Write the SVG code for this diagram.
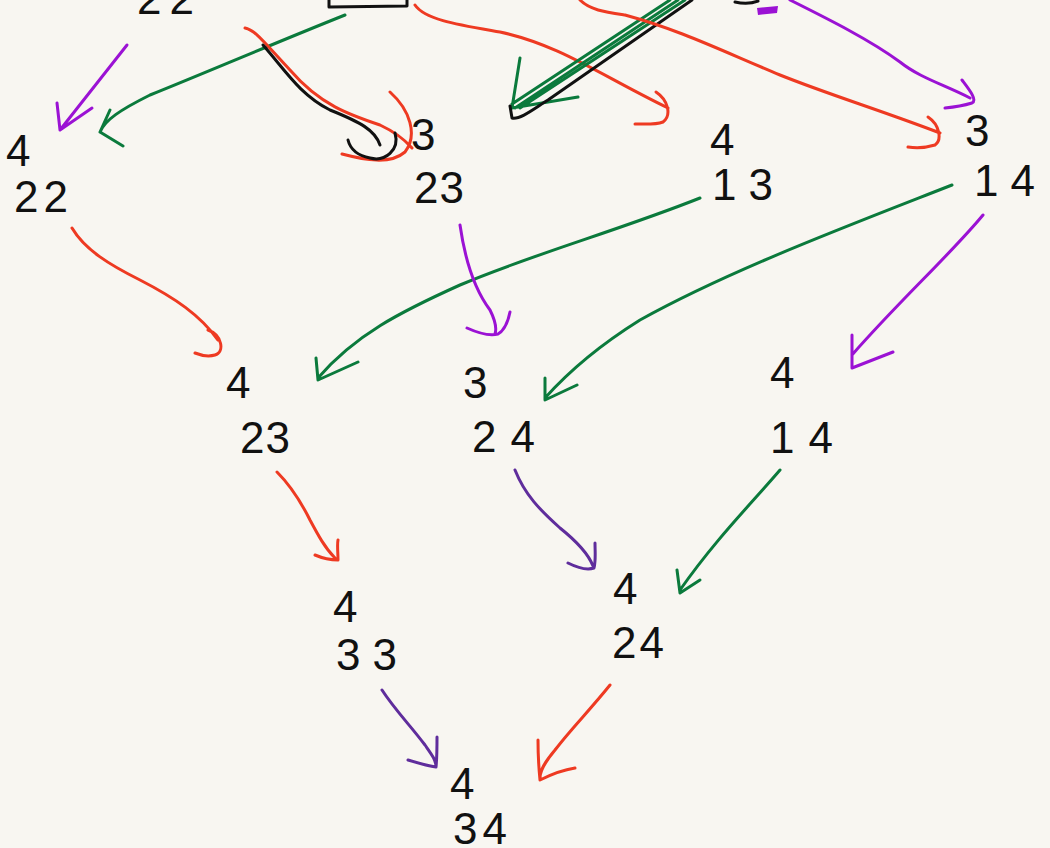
<svg xmlns="http://www.w3.org/2000/svg" width="1050" height="848" viewBox="0 0 1050 848">
<style>
.t{font-family:"Liberation Sans","DejaVu Sans",sans-serif;font-size:44px;fill:#111}
.c{fill:none;stroke-width:3;stroke-linecap:round;stroke-linejoin:round}
.r{stroke:#ee3a22}.g{stroke:#0b7a3c}.p{stroke:#9b12d4}.d{stroke:#5f2d9c}.k{stroke:#111}
</style>
<rect width="1050" height="848" fill="#f8f6f1"/>
<g id="top">
<text class="t" x="137" y="14" letter-spacing="8">22</text>
<path class="c k" d="M329,0 L329,7 L407,6 L407,0"/>
<path class="c k" d="M735,2 Q748,5 758,1"/>
<path d="M757,8 L778,6 L777,13 L758,15 Z" fill="#9b12d4"/>
</g>
<g id="n422"><text class="t" x="6" y="166">4</text><text class="t" x="14" y="212" letter-spacing="5">22</text></g>
<g id="n323"><text class="t" x="411" y="150">3</text><text class="t" x="414" y="203" letter-spacing="1">23</text></g>
<g id="n413"><text class="t" x="710" y="155">4</text><text class="t" x="712" y="200" letter-spacing="12">13</text></g>
<g id="n314"><text class="t" x="965" y="146">3</text><text class="t" x="974" y="196" letter-spacing="12">14</text></g>
<g id="n423"><text class="t" x="226" y="398">4</text><text class="t" x="240" y="453" letter-spacing="1">23</text></g>
<g id="n324"><text class="t" x="463" y="398">3</text><text class="t" x="472" y="452" letter-spacing="14">24</text></g>
<g id="n414"><text class="t" x="770" y="388">4</text><text class="t" x="770" y="453" letter-spacing="14">14</text></g>
<g id="n433"><text class="t" x="333" y="622">4</text><text class="t" x="336" y="670" letter-spacing="12">33</text></g>
<g id="n424"><text class="t" x="613" y="604">4</text><text class="t" x="612" y="658" letter-spacing="3">24</text></g>
<g id="n434"><text class="t" x="450" y="799">4</text><text class="t" x="453" y="844" letter-spacing="5">34</text></g>
<g id="connectors">
<path class="c p" d="M127,45 L60,130 M57,103 L60,130 L92,108"/>
<path class="c g" d="M345,15 C270,45 200,75 150,95 C120,110 105,120 100,132 M110,110 L100,132 L123,146"/>
<path class="c r" d="M245,28 C255,30 262,40 290,70 C320,105 350,115 380,125 C395,132 405,140 412,148 M390,92 C410,110 418,135 405,152 C390,165 365,160 342,154"/>
<path class="c k" d="M263,45 C285,70 300,95 330,110 C360,122 375,130 380,145 M395,133 C400,150 385,162 370,158 C355,155 350,148 348,140"/>
<path class="c r" d="M415,5 C425,20 460,25 500,32 C560,45 600,75 668,108 M656,92 C668,100 672,115 663,122 C655,125 645,124 635,124"/>
<path class="c g" d="M678,0 L515,108 M670,0 L512,104 M685,0 L520,108 M520,58 L512,108 L578,97"/>
<path class="c k" d="M692,0 L548,100 C535,108 520,120 512,118 L510,106"/>
<path class="c r" d="M580,0 C590,10 605,12 625,15 C680,30 720,50 780,75 C830,95 880,110 940,133 M928,117 C940,125 942,140 935,145 C925,148 915,148 908,147"/>
<path class="c p" d="M790,0 C830,20 870,40 900,62 C920,78 945,85 970,98 M962,80 C968,88 978,100 972,103 C962,106 955,107 945,108"/>
<path class="c g" d="M700,198 C620,230 530,255 460,285 C400,312 355,335 318,378 M316,358 L318,380 L358,362"/>
<path class="c p" d="M460,225 C465,260 475,290 490,310 C495,320 497,328 495,334 M467,328 C478,333 490,336 498,334 C505,330 508,322 510,312"/>
<path class="c g" d="M952,185 C850,225 730,270 640,320 C600,345 570,370 545,398 M545,378 L545,400 L577,385"/>
<path class="c p" d="M983,215 C950,255 900,300 852,355 M852,335 L852,368 L893,352"/>
<path class="c r" d="M72,228 C85,250 110,265 140,280 C175,298 200,315 218,340 M208,330 C222,335 225,352 215,355 C208,357 200,355 195,353"/>
<path class="c r" d="M277,472 C290,485 300,500 310,520 C318,535 325,548 335,558 M315,555 C322,558 330,560 338,560 C338,552 337,545 338,540"/>
<path class="c d" d="M515,470 C525,495 540,510 560,528 C575,540 588,553 593,566 M568,563 C578,568 588,570 594,568 C596,560 595,552 595,543"/>
<path class="c g" d="M780,470 C750,505 715,540 680,590 M677,570 L680,593 L700,580"/>
<path class="c d" d="M382,690 C395,710 410,725 425,745 C432,755 436,760 436,767 M408,760 C418,763 428,766 436,767 C437,758 437,747 437,737"/>
<path class="c r" d="M610,685 C590,710 570,730 555,750 C545,762 540,770 540,778 M538,740 C538,755 539,770 540,780 C550,775 562,770 575,768"/>
</g>
</svg>
